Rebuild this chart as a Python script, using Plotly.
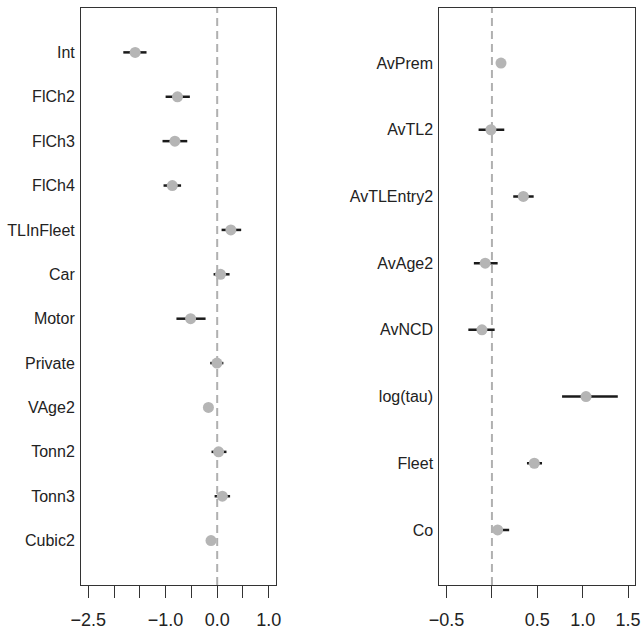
import plotly.graph_objects as go

# Left panel data
left_names = ["Int", "FlCh2", "FlCh3", "FlCh4", "TLInFleet", "Car", "Motor",
              "Private", "VAge2", "Tonn2", "Tonn3", "Cubic2"]
left_est = [-1.59, -0.77, -0.82, -0.87, 0.265, 0.065, -0.515, -0.005, -0.17, 0.027, 0.10, -0.12]
left_lo = [-1.82, -1.00, -1.06, -1.04, 0.085, -0.07, -0.79, -0.135, -0.24, -0.11, -0.05, -0.19]
left_hi = [-1.37, -0.53, -0.58, -0.70, 0.465, 0.24, -0.225, 0.12, -0.10, 0.18, 0.25, -0.05]

# Right panel data
right_names = ["AvPrem", "AvTL2", "AvTLEntry2", "AvAge2", "AvNCD", "log(tau)", "Fleet", "Co"]
right_est = [0.10, -0.011, 0.346, -0.074, -0.11, 1.037, 0.467, 0.063]
right_lo = [0.06, -0.147, 0.235, -0.199, -0.26, 0.773, 0.386, 0.01]
right_hi = [0.14, 0.136, 0.46, 0.063, 0.03, 1.387, 0.552, 0.19]

left_ticks = [-2.5, -2.0, -1.5, -1.0, -0.5, 0.0, 0.5, 1.0]
left_ticktext = ["\u22122.5", "", "", "\u22121.0", "", "0.0", "", "1.0"]
right_ticks = [-0.5, 0.0, 0.5, 1.0, 1.5]
right_ticktext = ["\u22120.5", "", "0.5", "1.0", "1.5"]

W, H = 641, 631
PT_COLOR = "#b5b5b5"
BAR_COLOR = "#1a1a1a"
AX_COLOR = "#333333"
FONT = "Liberation Sans, Arial, sans-serif"

fig = go.Figure()

def add_panel(names, est, lo, hi, xa, ya):
    pos = list(range(1, len(names) + 1))
    fig.add_trace(go.Scatter(
        x=est, y=pos, mode="markers",
        marker=dict(size=11, color=PT_COLOR, line=dict(width=0)),
        error_x=dict(type="data", symmetric=False,
                     array=[h - e for h, e in zip(hi, est)],
                     arrayminus=[e - l for e, l in zip(est, lo)],
                     color=BAR_COLOR, thickness=2.5, width=0),
        xaxis=xa, yaxis=ya, showlegend=False, hoverinfo="skip"))

add_panel(left_names, left_est, left_lo, left_hi, "x", "y")
add_panel(right_names, right_est, right_lo, right_hi, "x2", "y2")

ytop = 1 - 8 / H
ybot = 1 - 585 / H

common_x = dict(showgrid=False, zeroline=False, showline=True, linecolor=AX_COLOR,
                linewidth=1, mirror=True, ticks="outside", ticklen=12, tickwidth=1,
                tickcolor=AX_COLOR, tickfont=dict(family=FONT, size=18, color="#222222"),
                automargin=False, ticklabelstandoff=6)
common_y = dict(showgrid=False, zeroline=False, showline=True, linecolor=AX_COLOR,
                linewidth=1, mirror=True, ticks="", ticklen=0,
                tickfont=dict(family=FONT, size=16, color="#222222"),
                automargin=False, ticklabelstandoff=2)

fig.update_layout(
    width=W, height=H,
    margin=dict(l=0, r=0, t=0, b=0),
    paper_bgcolor="white", plot_bgcolor="white",
    xaxis=dict(domain=[81 / W, 276 / W], range=[-2.64, 1.14],
               tickvals=left_ticks, ticktext=left_ticktext, anchor="y", **common_x),
    yaxis=dict(domain=[ybot, ytop], range=[13, 0], tickvals=list(range(1, 13)),
               ticktext=left_names, anchor="x", **common_y),
    xaxis2=dict(domain=[439.3 / W, 635.3 / W], range=[-0.58, 1.58],
                tickvals=right_ticks, ticktext=right_ticktext, anchor="y2", **common_x),
    yaxis2=dict(domain=[ybot, ytop], range=[8.825, 0.175], tickvals=list(range(1, 9)),
                ticktext=right_names, anchor="x2", **common_y),
    shapes=[
        dict(type="line", xref="x", yref="y domain", x0=0, x1=0, y0=0, y1=1,
             line=dict(color="#b0b0b0", width=2, dash="8px,5px"), layer="below"),
        dict(type="line", xref="x2", yref="y2 domain", x0=0, x1=0, y0=0, y1=1,
             line=dict(color="#b0b0b0", width=2, dash="8px,5px"), layer="below"),
    ],
)

fig.write_html("out.html")
